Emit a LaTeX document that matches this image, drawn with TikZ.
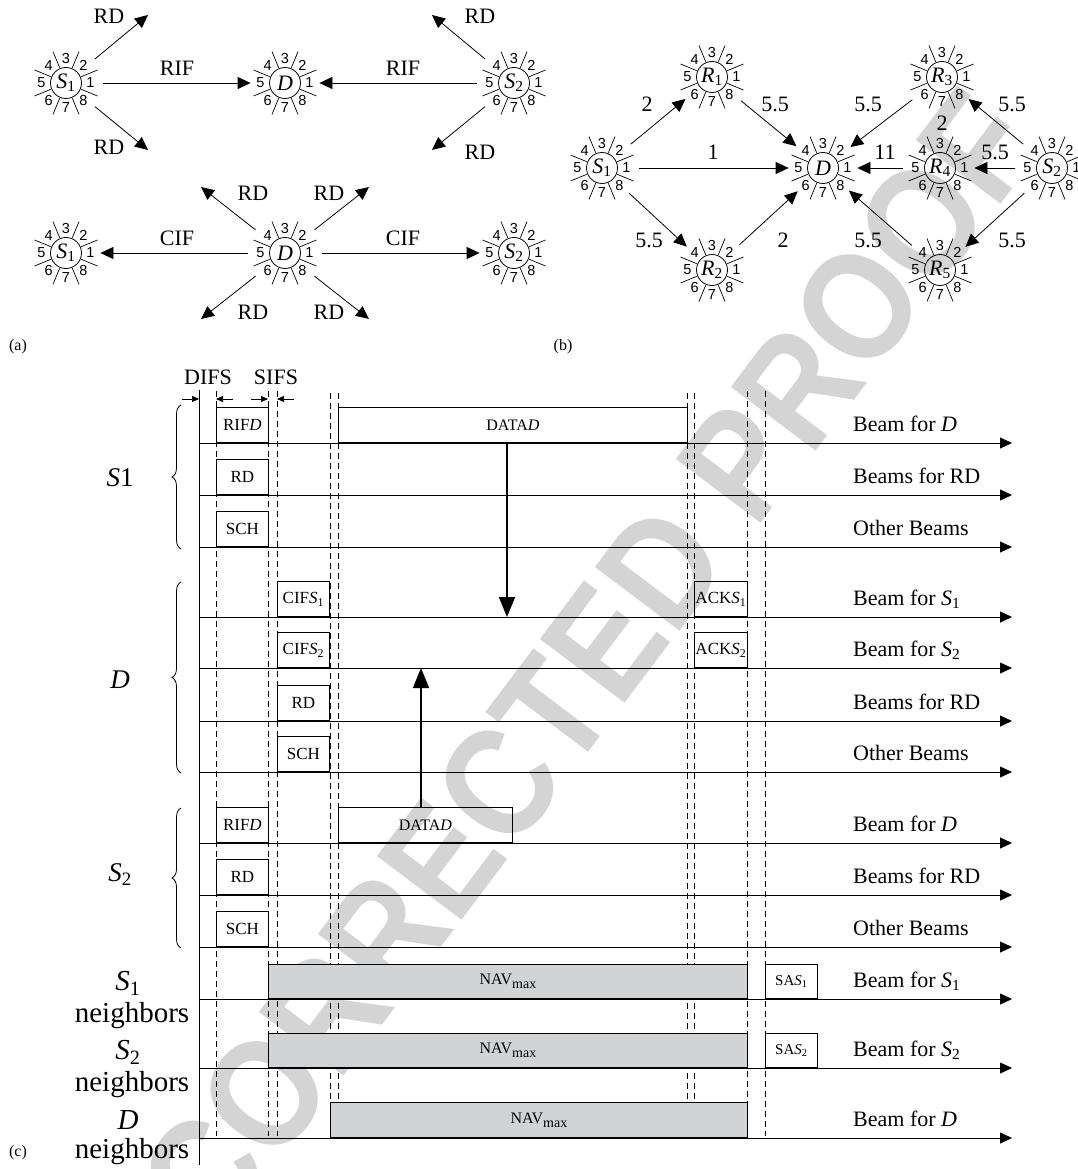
\documentclass[tikz,border=0pt]{standalone}
\usepackage{fontspec}
\setmainfont{Liberation Serif}
\newfontfamily\digitfont{Liberation Sans}
\newfontfamily\wmfont{Liberation Sans}
\usetikzlibrary{arrows.meta,decorations.pathreplacing,calc}
\definecolor{navgray}{RGB}{209,211,212}
\definecolor{wmgray}{RGB}{212,212,213}
\tikzset{
  antc/.style={circle,draw,line width=0.8pt,minimum size=31pt,inner sep=0pt,font=\fontsize{22}{22}\selectfont},
  spoke/.style={line width=0.7pt},
  digit/.style={font=\digitfont\fontsize{14.5}{14.5}\selectfont,inner sep=0pt},
  link/.style={line width=0.8pt,-{Triangle[length=13pt,width=12pt]},shorten <=21.5pt,shorten >=18.5pt},
  free/.style={line width=0.8pt,-{Triangle[length=13pt,width=12pt]},shorten <=21.5pt},
  lbl/.style={font=\fontsize{22}{22}\selectfont,inner sep=0pt},
  tl/.style={line width=0.8pt,-{Triangle[length=12pt,width=11pt]}},
  dl/.style={line width=0.7pt,dash pattern=on 6pt off 4pt},
  cbox/.style={draw,line width=0.8pt,inner sep=0pt,anchor=south west,minimum height=35pt,minimum width=52pt,font=\fontsize{17}{17}\selectfont},
  sbox/.style={cbox,font=\fontsize{16}{16}\selectfont},
  sabox/.style={cbox,minimum height=34pt,font=\fontsize{15}{15}\selectfont},
  navbox/.style={cbox,fill=navgray,minimum height=34pt,font=\fontsize{16}{16}\selectfont},
  beam/.style={anchor=base west,inner sep=0pt,font=\fontsize{22}{22}\selectfont},
  rowlbl/.style={inner sep=0pt,font=\fontsize{27}{27}\selectfont},
  nblbl/.style={inner sep=0pt,font=\fontsize{29}{29}\selectfont},
  vbig/.style={line width=1.8pt,-{Triangle[length=20pt,width=16pt]}},
  dim/.style={line width=0.6pt,-{Triangle[length=7pt,width=6pt]}},
  brc/.style={decorate,decoration={brace,amplitude=9pt,aspect=0.5},line width=0.8pt},
  plbl/.style={inner sep=0pt,font=\fontsize{16}{16}\selectfont},
  gaplbl/.style={inner sep=0pt,font=\fontsize{22}{22}\selectfont}
}
\newcommand\antnode[3]{%
  \node[antc] (#1) at #2 {#3};
  \foreach \a in {22.5,67.5,...,337.5}{\draw[spoke] (#1.center) ++(\a:16.5) -- ++(\a:17.5);}
  \foreach \k in {1,...,8}{\path (#1.center) ++({-45*(\k-1)}:24.5) node[digit] {\k};}
}
\newcommand\Ssub[1]{\textit{S}\textsubscript{#1}}
\newcommand\navtext{NAV\raisebox{-4pt}{\fontsize{14}{14}\selectfont max}}
\begin{document}
\begin{tikzpicture}[x=1pt,y=-1pt]
\useasboundingbox (0,0) rectangle (1077,1169);
\fill[white] (0,0) rectangle (1077,1169);
% watermark
\begin{scope}
\clip (0,0) rectangle (1077,1169);
\node[rotate=53,text=wmgray,inner sep=0pt,font=\wmfont\bfseries\fontsize{154}{154}\selectfont] (wm) at (530,742) {\scalebox{0.88}[1]{UNCORRECTED PROOF}};
\end{scope}

% ---------------- (a) ----------------
\antnode{aS1}{(66,83)}{\Ssub{1}}
\antnode{aD1}{(285,83)}{\textit{D}}
\antnode{aS2}{(514,83)}{\Ssub{2}}
\antnode{aS1b}{(66,253)}{\Ssub{1}}
\antnode{aD2}{(285,253)}{\textit{D}}
\antnode{aS2b}{(514,253)}{\Ssub{2}}
\coordinate (rd1) at (148,15);
\coordinate (rd2) at (148,150);
\coordinate (rd3) at (432,15);
\coordinate (rd4) at (432,150);
\coordinate (rd5) at (201,187);
\coordinate (rd6) at (369,187);
\coordinate (rd7) at (201,319);
\coordinate (rd8) at (369,319);
\draw[link] (aS1) -- (aD1);
\draw[link] (aS2) -- (aD1);
\draw[free] (aS1) -- (rd1);
\draw[free] (aS1) -- (rd2);
\draw[free] (aS2) -- (rd3);
\draw[free] (aS2) -- (rd4);
\draw[link] (aD2) -- (aS1b);
\draw[link] (aD2) -- (aS2b);
\draw[free] (aD2) -- (rd5);
\draw[free] (aD2) -- (rd6);
\draw[free] (aD2) -- (rd7);
\draw[free] (aD2) -- (rd8);
\node[lbl] (tRIF1) at (177,68) {RIF};
\node[lbl] (tRIF2) at (403,68) {RIF};
\node[lbl] (tCIF1) at (177,238) {CIF};
\node[lbl] (tCIF2) at (403,238) {CIF};
\node[lbl] (tRD1) at (109,16) {RD};
\node[lbl] (tRD2) at (109,147) {RD};
\node[lbl] (tRD3) at (480,16) {RD};
\node[lbl] (tRD4) at (480,152) {RD};
\node[lbl] (tRD5) at (253,193) {RD};
\node[lbl] (tRD6) at (329,193) {RD};
\node[lbl] (tRD7) at (253,312) {RD};
\node[lbl] (tRD8) at (329,312) {RD};
\node[plbl] (pa) at (18,347) {(a)};

% ---------------- (b) ----------------
\antnode{bS1}{(602,168)}{\Ssub{1}}
\antnode{bR1}{(712,77)}{\textit{R}\textsubscript{1}}
\antnode{bR2}{(712,270)}{\textit{R}\textsubscript{2}}
\antnode{bD}{(823,168)}{\textit{D}}
\antnode{bR3}{(942,77)}{\textit{R}\textsubscript{3}}
\antnode{bR4}{(940,168)}{\textit{R}\textsubscript{4}}
\antnode{bR5}{(940,270)}{\textit{R}\textsubscript{5}}
\antnode{bS2}{(1052,168)}{\Ssub{2}}
\draw[link] (bS1) -- (bR1);
\draw[link] (bR1) -- (bD);
\draw[link] (bS1) -- (bD);
\draw[link] (bS1) -- (bR2);
\draw[link] (bR2) -- (bD);
\draw[link] (bR3) -- (bD);
\draw[link] (bS2) -- (bR3);
\draw[link] (bR4) -- (bD);
\draw[link] (bS2) -- (bR4);
\draw[link] (bR5) -- (bD);
\draw[link] (bS2) -- (bR5);
\node[lbl] (w1) at (647,104) {2};
\node[lbl] (w2) at (775,104) {5.5};
\node[lbl] (w3) at (713,152) {1};
\node[lbl] (w4) at (649,240) {5.5};
\node[lbl] (w5) at (783,240) {2};
\node[lbl] (w6) at (868,104) {5.5};
\node[lbl] (w7) at (1012,104) {5.5};
\node[lbl] (w8) at (942,123) {2};
\node[lbl] (w9) at (885,152) {11};
\node[lbl] (w10) at (995,152) {5.5};
\node[lbl] (w11) at (868,240) {5.5};
\node[lbl] (w12) at (1012,240) {5.5};
\node[plbl] (pb) at (563,347) {(b)};

% ---------------- (c) ----------------
\foreach \x in {216,268,277,747,765}{\draw[dl] (\x,391) -- (\x,1136);}
\foreach \x in {330,338,687,694}{\draw[dl] (\x,393) -- (\x,1102);}
\coordinate (ax0) at (199,390);
\coordinate (ax1) at (199,1165);
\draw[line width=0.8pt] (ax0) -- (ax1);
\foreach \y [count=\i] in {443,495,547,617,668,721,772,843,895,947,999,1068,1138}{
  \coordinate (L\i) at (199,\y);
  \coordinate (E\i) at (1012,\y);
  \draw[tl] (L\i) -- (E\i);
}
\node[gaplbl] (difs) at (208,377) {DIFS};
\node[gaplbl] (sifs) at (276,377) {SIFS};
\coordinate (d1a) at (182,399); \coordinate (d1b) at (199,399);
\coordinate (d2a) at (233,399); \coordinate (d2b) at (216,399);
\coordinate (d3a) at (251,399); \coordinate (d3b) at (268,399);
\coordinate (d4a) at (294,399); \coordinate (d4b) at (277,399);
\draw[dim] (d1a) -- (d1b);
\draw[dim] (d2a) -- (d2b);
\draw[dim] (d3a) -- (d3b);
\draw[dim] (d4a) -- (d4b);
\node[cbox] (rifA) at (216,443) {RIF\textit{D}};
\node[cbox] (rdA) at (216,495) {RD};
\node[cbox] (schA) at (216,547) {SCH};
\node[sbox,minimum width=349pt] (dataA) at (338,443) {DATA\textit{D}};
\node[cbox] (cif1) at (277,617) {CIF\Ssub{1}};
\node[cbox] (cif2) at (277,668) {CIF\Ssub{2}};
\node[cbox] (rdD) at (277,721) {RD};
\node[cbox] (schD) at (277,772) {SCH};
\node[cbox,minimum width=53pt] (ack1) at (694,617) {ACK\Ssub{1}};
\node[cbox,minimum width=53pt] (ack2) at (694,668) {ACK\Ssub{2}};
\node[cbox] (rifB) at (216,843) {RIF\textit{D}};
\node[cbox] (rdB) at (216,895) {RD};
\node[cbox] (schB) at (216,947) {SCH};
\node[sbox,minimum width=174pt] (dataB) at (338,843) {DATA\textit{D}};
\node[navbox,minimum width=479pt] (nav1) at (268,999) {\navtext};
\node[sabox] (sa1) at (765,999) {SA\Ssub{1}};
\node[navbox,minimum width=479pt] (nav2) at (268,1068) {\navtext};
\node[sabox] (sa2) at (765,1068) {SA\Ssub{2}};
\node[navbox,minimum width=417pt,minimum height=35pt] (nav3) at (330,1138) {\navtext};
\coordinate (xa) at (507,0);
\coordinate (xb) at (421,0);
\draw[vbig] (dataA.south -| xa) -- (L4 -| xa);
\draw[vbig] (dataB.north -| xb) -- (L5 -| xb);
\node[beam] (b1) at (853,431) {Beam for \textit{D}};
\node[beam] (b2) at (853,483) {Beams for RD};
\node[beam] (b3) at (853,535) {Other Beams};
\node[beam] (b4) at (853,605) {Beam for \Ssub{1}};
\node[beam] (b5) at (853,656) {Beam for \Ssub{2}};
\node[beam] (b6) at (853,709) {Beams for RD};
\node[beam] (b7) at (853,760) {Other Beams};
\node[beam] (b8) at (853,831) {Beam for \textit{D}};
\node[beam] (b9) at (853,883) {Beams for RD};
\node[beam] (b10) at (853,935) {Other Beams};
\node[beam] (b11) at (853,987) {Beam for \Ssub{1}};
\node[beam] (b12) at (853,1056) {Beam for \Ssub{2}};
\node[beam] (b13) at (853,1126) {Beam for \textit{D}};
\coordinate (br1a) at (181,549); \coordinate (br1b) at (181,405);
\coordinate (br2a) at (181,773); \coordinate (br2b) at (181,582);
\coordinate (br3a) at (181,948); \coordinate (br3b) at (181,808);
\draw[brc] (br1a) -- (br1b);
\draw[brc] (br2a) -- (br2b);
\draw[brc] (br3a) -- (br3b);
\node[rowlbl] (rS1) at (120,478) {\textit{S}1};
\node[rowlbl] (rD) at (120,680) {\textit{D}};
\node[rowlbl] (rS2) at (120,875) {\Ssub{2}};
\node[nblbl] (n1a) at (128,983) {\Ssub{1}};
\node[nblbl] (n1b) at (132,1016) {neighbors};
\node[nblbl] (n2a) at (128,1052) {\Ssub{2}};
\node[nblbl] (n2b) at (132,1085) {neighbors};
\node[nblbl] (n3a) at (128,1120) {\textit{D}};
\node[nblbl] (n3b) at (132,1152) {neighbors};
\node[plbl] (pc) at (18,1153) {(c)};
\end{tikzpicture}
\end{document}
